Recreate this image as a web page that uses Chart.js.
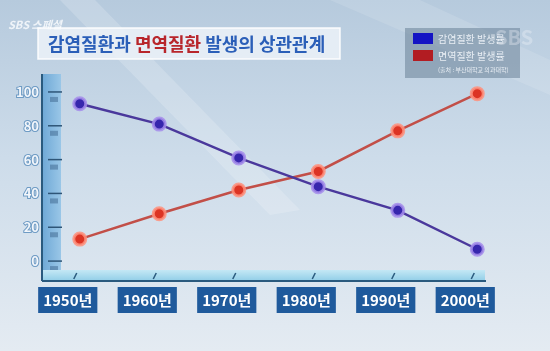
<!DOCTYPE html>
<html>
<head>
<meta charset="utf-8">
<script src="https://cdn.jsdelivr.net/npm/chart.js@4.4.0/dist/chart.umd.min.js"></script>
<style>
  body { margin: 0; background: #d3e0eb; }
  canvas { display: block; }
</style>
</head>
<body>
<canvas id="graph" width="550" height="351"></canvas>
<script>
var years = ['1950년', '1960년', '1970년', '1980년', '1990년', '2000년'];
var infectRate = [93, 81, 61, 44, 30, 7];
var immuneRate = [13, 28, 42, 53, 77, 99];
var yTicks = [0, 20, 40, 60, 80, 100];
var titleParts = [['감염질환과 ', '#2b5fb8'], ['면역질환', '#b8262b'], [' 발생의 상관관계', '#2b5fb8']];
var sourceText = '(출처 : 부산대학교 의과대학)';
var font = '"Noto Sans CJK KR", "Noto Sans", sans-serif';

// background, title box, legend box
var decor = {
  id: 'decor',
  beforeDraw: function (chart) {
    var ctx = chart.ctx;
    ctx.save();
    var g = ctx.createLinearGradient(0, 0, 0, 351);
    g.addColorStop(0, '#b6cadd');
    g.addColorStop(0.45, '#cddcea');
    g.addColorStop(1, '#e4ebf2');
    ctx.fillStyle = g;
    ctx.fillRect(0, 0, 550, 351);
    // light diagonal streaks
    ctx.fillStyle = 'rgba(255,255,255,0.18)';
    ctx.beginPath();
    ctx.moveTo(60, 0); ctx.lineTo(95, 0); ctx.lineTo(300, 210); ctx.lineTo(270, 215);
    ctx.closePath(); ctx.fill();
    ctx.fillStyle = 'rgba(255,255,255,0.12)';
    ctx.beginPath();
    ctx.moveTo(330, 0); ctx.lineTo(420, 0); ctx.lineTo(550, 60); ctx.lineTo(550, 95);
    ctx.closePath(); ctx.fill();

    // logo
    ctx.font = 'italic bold 11px ' + font;
    ctx.fillStyle = 'rgba(245,248,252,0.9)';
    ctx.textBaseline = 'middle';
    ctx.fillText('SBS 스페셜', 8, 25);

    // title box
    ctx.fillStyle = 'rgba(236,242,248,0.85)';
    ctx.strokeStyle = 'rgba(255,255,255,0.9)';
    ctx.lineWidth = 1.5;
    ctx.fillRect(38, 28, 302, 31);
    ctx.strokeRect(38, 28, 302, 31);
    ctx.font = 'bold 18px ' + font;
    var x = 48;
    titleParts.forEach(function (p) {
      ctx.fillStyle = p[1];
      ctx.fillText(p[0], x, 44);
      x += ctx.measureText(p[0]).width;
    });

    // legend box
    ctx.fillStyle = 'rgba(105,130,152,0.55)';
    ctx.fillRect(405, 28, 115, 50);
    ctx.font = 'bold 20px ' + font;
    ctx.fillStyle = 'rgba(240,244,248,0.35)';
    ctx.fillText('SBS', 495, 37);
    var swatch = ['#1414c4', '#b21c22'];
    chart.data.datasets.forEach(function (ds, i) {
      var y = 33 + i * 17;
      ctx.fillStyle = swatch[i];
      ctx.fillRect(413, y, 20, 11);
      ctx.font = '10px ' + font;
      ctx.fillStyle = '#e8eef4';
      ctx.fillText(ds.label, 438, y + 6);
    });
    ctx.font = '6px ' + font;
    ctx.fillText(sourceText, 438, 70);
    ctx.restore();
  },
  beforeDatasetsDraw: function (chart) {
    var ctx = chart.ctx;
    var ys = chart.scales.y;
    var xs = chart.scales.x;
    ctx.save();
    // vertical axis bar
    var g = ctx.createLinearGradient(42, 0, 62, 0);
    g.addColorStop(0, '#6ea8d6');
    g.addColorStop(1, '#9cc8e8');
    ctx.fillStyle = g;
    ctx.fillRect(42, 74, 19, 208);
    ctx.strokeStyle = '#2e5577';
    ctx.lineWidth = 1.5;
    yTicks.forEach(function (v) {
      var py = ys.getPixelForValue(v);
      ctx.beginPath(); ctx.moveTo(48, py); ctx.lineTo(62, py); ctx.stroke();
      ctx.fillStyle = 'rgba(60,100,140,0.5)';
      ctx.fillRect(50, py + 5, 8, 5);
    });
    // base bar
    var b = ctx.createLinearGradient(0, 270, 0, 282);
    b.addColorStop(0, '#c4e8f5');
    b.addColorStop(1, '#8ccbe6');
    ctx.fillStyle = b;
    ctx.fillRect(42, 270, 443, 11);
    ctx.strokeStyle = '#2a5a7e';
    ctx.lineWidth = 2;
    ctx.beginPath(); ctx.moveTo(42, 281); ctx.lineTo(486, 281); ctx.stroke();
    ctx.beginPath(); ctx.moveTo(42, 74); ctx.lineTo(42, 281); ctx.stroke();
    ctx.lineWidth = 1.5;
    years.forEach(function (y, i) {
      var px = xs.getPixelForValue(i) - 6;
      ctx.beginPath(); ctx.moveTo(px, 279); ctx.lineTo(px + 3, 273); ctx.stroke();
    });
    ctx.restore();
  }
};

var graphData = {
  labels: years,
  datasets: [
    {
      label: '감염질환 발생률',
      data: infectRate,
      borderColor: '#4a389c',
      borderWidth: 2.5,
      pointRadius: 6,
      pointBackgroundColor: '#3626ad',
      pointBorderColor: 'rgba(165,140,235,0.85)',
      pointBorderWidth: 3
    },
    {
      label: '면역질환 발생률',
      data: immuneRate,
      borderColor: '#c24f48',
      borderWidth: 2.5,
      pointRadius: 6,
      pointBackgroundColor: '#dc3424',
      pointBorderColor: 'rgba(255,145,125,0.85)',
      pointBorderWidth: 3
    }
  ]
};

var config = {
  type: 'line',
  data: graphData,
  options: {
    responsive: false,
    animation: false,
    layout: { padding: { left: 15, right: 33, top: 83.5, bottom: 37 } },
    plugins: {
      legend: { display: false },
      tooltip: { enabled: false }
    },
    scales: {
      x: {
        offset: true,
        grid: { display: false },
        border: { display: false },
        ticks: {
          color: '#ffffff',
          font: { family: font, size: 15, weight: 'bold' },
          padding: 5,
          labelOffset: -12,
          showLabelBackdrop: true,
          backdropColor: '#1f5a9c',
          backdropPadding: { x: 5, y: 4 }
        }
      },
      y: {
        min: -10,
        max: 105,
        grid: { display: false, drawTicks: false },
        border: { display: false },
        afterBuildTicks: function (scale) {
          scale.ticks = yTicks.map(function (v) { return { value: v }; });
        },
        ticks: {
          color: '#f2f6fb',
          textStrokeColor: '#6e9bc4',
          textStrokeWidth: 2,
          font: { family: font, size: 13, weight: 'bold' },
          padding: 1
        }
      }
    }
  },
  plugins: [decor]
};

var myChart = new Chart(document.getElementById('graph'), config);
</script>
</body>
</html>
